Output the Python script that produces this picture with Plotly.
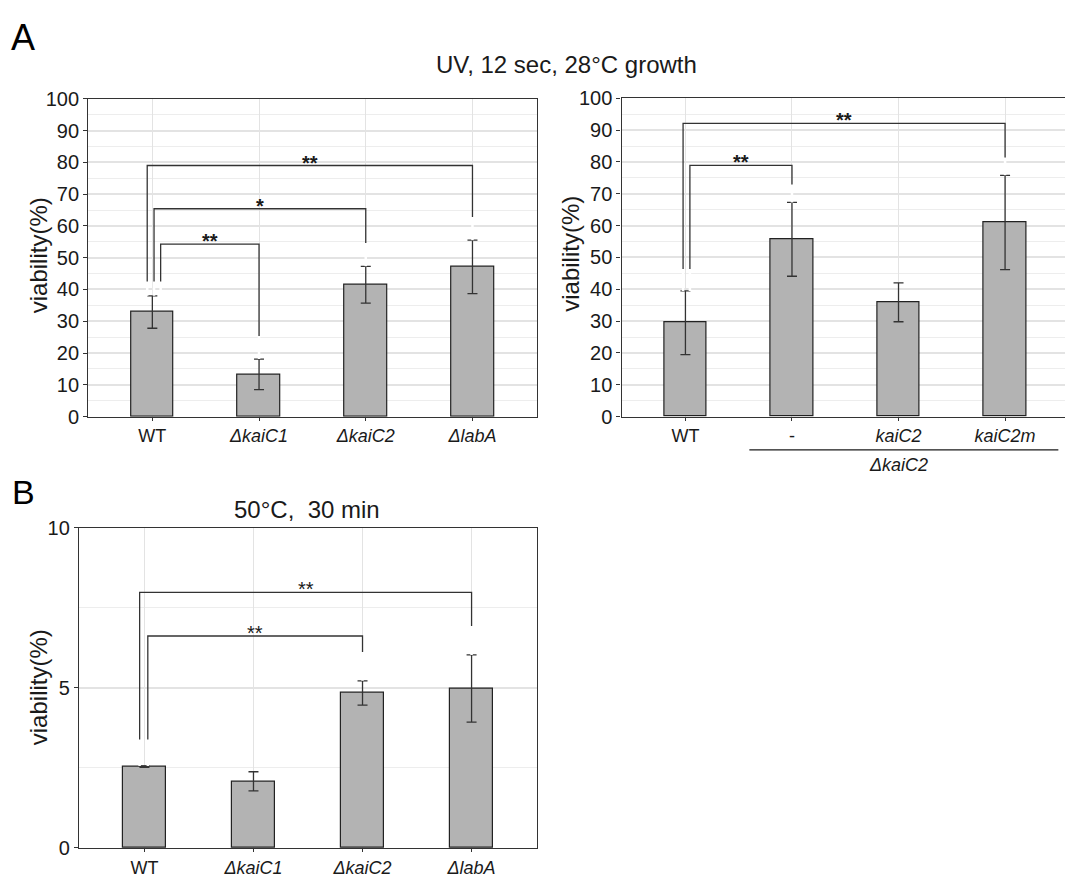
import plotly.graph_objects as go

W, H = 1065, 883

# ---------------- data ----------------
cats_uv_mut = ["WT", "ΔkaiC1", "ΔkaiC2", "ΔlabA"]
uv_mut_val = [32.9, 13.3, 41.5, 47.1]
uv_mut_err = [5.1, 4.8, 5.8, 8.4]

cats_uv_comp = ["WT", "-", "kaiC2", "kaiC2m"]
uv_comp_val = [29.5, 55.7, 35.9, 61.0]
uv_comp_err = [10.0, 11.6, 6.1, 14.8]
comp_group_label = "ΔkaiC2"

cats_heat = ["WT", "ΔkaiC1", "ΔkaiC2", "ΔlabA"]
heat_val = [2.54, 2.08, 4.84, 4.98]
heat_err = [0.02, 0.30, 0.38, 1.05]

# significance brackets: (left idx, right idx, label)
sig_uv_mut = [(0, 3, "**"), (0, 2, "*"), (0, 1, "**")]
sig_uv_comp = [(0, 3, "**"), (0, 1, "**")]
sig_heat = [(0, 3, "**"), (0, 2, "**")]

# ---------------- geometry (pixels) ----------------
def fx(px):
    return px / W

def fy(py):
    return 1 - py / H

FONT = "Arial, Liberation Sans, Helvetica, sans-serif"
INK = "#1a1a1a"
LINE = "#333333"
BAR = "#b3b3b3"

fig = go.Figure()

def label(s):
    return s if s in ("WT", "-") else f"<i>{s}</i>"

panels = [
    dict(cats=cats_uv_mut, val=uv_mut_val, err=uv_mut_err, xa="x", ya="y"),
    dict(cats=cats_uv_comp, val=uv_comp_val, err=uv_comp_err, xa="x2", ya="y2"),
    dict(cats=cats_heat, val=heat_val, err=heat_err, xa="x3", ya="y3"),
]
for p in panels:
    fig.add_trace(go.Bar(
        x=list(range(len(p["cats"]))), y=p["val"], width=0.4,
        marker=dict(color=BAR, line=dict(color="#222222", width=1.2)),
        error_y=dict(type="data", array=p["err"], visible=True,
                     color=LINE, thickness=1.3, width=5),
        xaxis=p["xa"], yaxis=p["ya"], showlegend=False, hoverinfo="skip"))

grid_major = "#e3e3e3"
grid_minor = "#ededed"

def xaxis_cfg(cats, dom, rng, mirror=True):
    return dict(domain=dom, range=rng, tickmode="array",
                tickvals=list(range(len(cats))),
                ticktext=[label(c) for c in cats],
                showline=True, linecolor=LINE, linewidth=1.4, mirror=mirror,
                ticks="outside", ticklen=3, tickcolor=LINE, tickwidth=1,
                showgrid=True, gridcolor=grid_major, gridwidth=1.2,
                zeroline=False, tickfont=dict(family=FONT, size=18, color=INK),
                fixedrange=True)

def yaxis_cfg(dom, rng, dtick, minor, anchor, mirror=True):
    return dict(domain=dom, range=rng, dtick=dtick, tick0=0,
                showline=True, linecolor=LINE, linewidth=1.4, mirror=mirror,
                ticks="outside", ticklen=4, tickcolor=LINE, tickwidth=1,
                showgrid=True, gridcolor=grid_major, gridwidth=1.5,
                minor=dict(dtick=minor, tick0=0, showgrid=True,
                           gridcolor=grid_minor, gridwidth=1, ticks=""),
                zeroline=False, anchor=anchor,
                tickfont=dict(family=FONT, size=20, color=INK),
                fixedrange=True)

# panel A left
A1x = [fx(88.3), fx(536.5)]
A1y = [fy(416), fy(90)]
# panel A right (right border falls outside the canvas)
A2x = [fx(621.5), 1.0]
A2y = [fy(416), fy(89.5)]
# panel B
Bx = [fx(79), fx(537)]
By = [fy(858.3), fy(530)]

spacing2 = (1069 - 621.5) / 4.2
fig.update_layout(
    xaxis=xaxis_cfg(cats_uv_mut, A1x, [-0.6, 3.6]) | dict(anchor="y"),
    yaxis=yaxis_cfg(A1y, [0, 100], 10, 5, "x"),
    xaxis2=xaxis_cfg(cats_uv_comp, A2x, [-0.6, 3.6 - (1069 - W) / spacing2]) | dict(anchor="y2"),
    yaxis2=yaxis_cfg(A2y, [0, 100], 10, 5, "x2", mirror=False),
    xaxis3=xaxis_cfg(cats_heat, Bx, [-0.6, 3.6]) | dict(anchor="y3"),
    yaxis3=yaxis_cfg(By, [0, 10], 5, 2.5, "x3"),
)

shapes = []
annotations = []

def add_brackets(sigs, vals, errs, xr, yr, left_offsets, left_bot, top_levels,
                 right_gap, star_font):
    for (i, j, txt), lo, top in zip(sigs, left_offsets, top_levels):
        xl = i + lo
        xrr = j
        right_bot = vals[j] + errs[j] + right_gap
        lb = left_bot
        # white halos below legs (mask gridlines)
        for xx, yb, ytop_err in ((xl, lb, vals[i] + errs[i]), (xrr, right_bot, vals[j] + errs[j])):
            shapes.append(dict(type="line", xref=xr, yref=yr, x0=xx, x1=xx,
                               y0=yb, y1=ytop_err, line=dict(color="white", width=2.5),
                               layer="above"))
        pts = [(xl, lb), (xl, top), (xrr, top), (xrr, right_bot)]
        path = "M " + " L ".join(f"{a},{b}" for a, b in pts)
        shapes.append(dict(type="path", xref=xr, yref=yr, path=path,
                           line=dict(color=LINE, width=1.3), layer="above"))
        annotations.append(dict(x=(xl + xrr) / 2, y=top, xref=xr, yref=yr,
                                text=txt, showarrow=False, xanchor="center",
                                yanchor="middle", yshift=3, font=star_font))

star_bold = dict(family=FONT, size=20, color=INK, weight="bold")
star_norm = dict(family=FONT, size=20, color=INK)

add_brackets(sig_uv_mut, uv_mut_val, uv_mut_err, "x", "y",
             [-0.048, 0.016, 0.078], 42.5, [79.0, 65.4, 54.3], 7.3, star_bold)
add_brackets(sig_uv_comp, uv_comp_val, uv_comp_err, "x2", "y2",
             [-0.022, 0.042], 46.4, [92.1, 78.9], 5.6, star_bold)
add_brackets(sig_heat, heat_val, heat_err, "x3", "y3",
             [-0.044, 0.031], 3.39, [7.98, 6.62], 0.9, star_norm)

# group line under complemented strains
shapes.append(dict(type="line", xref="x2", yref="paper", x0=0.6, x1=3.5,
                   y0=fy(450), y1=fy(450), line=dict(color=INK, width=1.2)))
annotations.append(dict(x=2, y=fy(466), xref="x2", yref="paper",
                        xanchor="center", yanchor="middle",
                        text=f"<i>{comp_group_label}</i>", showarrow=False,
                        font=dict(family=FONT, size=18, color=INK)))

# titles
def txt(xp, yp, s, size, color=INK, angle=0):
    return dict(x=fx(xp), y=fy(yp), xref="paper", yref="paper", showarrow=False,
                xanchor="center", yanchor="middle", textangle=angle, text=s,
                font=dict(family=FONT, size=size, color=color))

annotations += [
    txt(566, 55, "UV, 12 sec, 28°C growth", 24),
    txt(307, 511, "50°C,\u00a0 30 min", 24),
    txt(23, 27, "A", 36, "black"),
    txt(23, 493, "B", 34, "black"),
]
for xpx, ypx in ((38.5, 251), (571, 249), (38.5, 694)):
    annotations.append(txt(xpx, ypx, "viability(%)", 24, angle=-90))

fig.update_layout(
    width=W, height=H, margin=dict(l=0, r=0, t=0, b=0),
    paper_bgcolor="white", plot_bgcolor="white",
    shapes=shapes, annotations=annotations, showlegend=False,
    bargap=0,
)

fig.write_html("out.html", config={"displayModeBar": False})
